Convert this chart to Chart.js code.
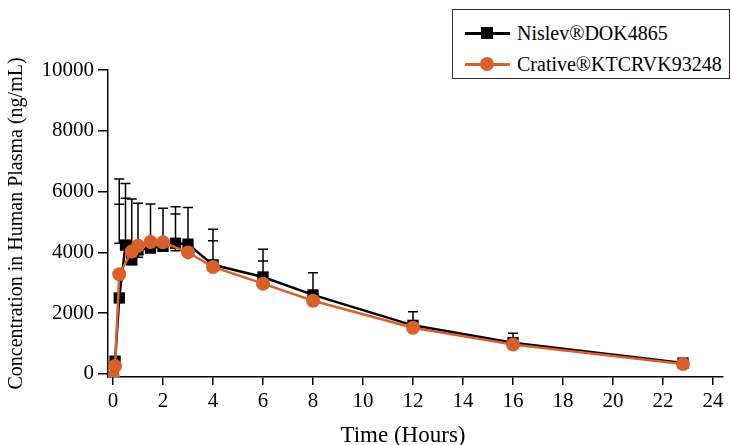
<!DOCTYPE html>
<html>
<head>
<meta charset="utf-8">
<script src="https://cdn.jsdelivr.net/npm/chart.js@4/dist/chart.umd.min.js"></script>
<style>
  body { margin: 0; background: #fff; }
  #wrap { position: relative; width: 731px; height: 445px; overflow: hidden; }
  #legend { position: absolute; left: 452px; top: 9px; width: 276px; height: 68px; border: 1.5px solid #333; background: #fff;
            font-family: "Liberation Serif", "Times New Roman", serif; font-size: 20px; color: #000; }
  .row { position: absolute; left: 0; height: 24px; width: 100%; }
  .row .ln { position: absolute; left: 12px; top: 11px; width: 45px; height: 2.5px; }
  .row .mk { position: absolute; }
  .row span { position: absolute; left: 64px; top: 0; line-height: 24px; white-space: nowrap; }
  #xtitle { position: absolute; left: 283px; top: 423px; width: 240px; text-align: center; line-height: 23px;
            font-family: "Liberation Serif", "Times New Roman", serif; font-size: 23px; color: #000; }
</style>
</head>
<body>
<div id="wrap">
  <canvas id="chart" width="731" height="445"></canvas>
  <div id="legend"></div>
  <div id="xtitle">Time (Hours)</div>
</div>
<script>
// Nislev series (black squares)
const timeN = [0, 0.083, 0.25, 0.5, 0.75, 1, 1.5, 2, 2.5, 3, 4, 6, 8, 12, 16, 22.8];
const concN = [-100, 420, 2500, 4240, 3750, 4080, 4140, 4200, 4300, 4270, 3590, 3190, 2600, 1600, 1030, 360];
// Crative series (orange circles)
const timeC = [0, 0.083, 0.25, 0.75, 1, 1.5, 2, 3, 4, 6, 8, 12, 16, 22.8];
const concC = [-100, 260, 3280, 4030, 4220, 4340, 4330, 4000, 3520, 2970, 2410, 1520, 970, 330];

// error bars (SD), as drawn
const errTime = [0.25, 0.5, 0.75, 1, 1.5, 2, 2.5, 3, 4, 6, 8, 12, 16];
const errHigh = [6410, 6270, 5760, 5620, 5590, 5450, 5500, 5480, 4760, 4100, 3330, 2050, 1340];
const errMid  = [5580, 5780, null, null, null, null, 5260, null, 4380, 3720, null, null, null];
const errLowCap = [4300, null, null, 3840, null, null, 4050, null, null, null, null, null, null];

const xTicks = [0, 2, 4, 6, 8, 10, 12, 14, 16, 18, 20, 22, 24];
const yTicks = [0, 2000, 4000, 6000, 8000, 10000];

const names = ['Nislev\u00aeDOK4865', 'Crative\u00aeKTCRVK93248'];
const ORANGE = '#d9602a';
const FONT = '"Liberation Serif", "Times New Roman", serif';

const pts = (xs, ys) => xs.map((x, i) => ({ x, y: ys[i] }));

const errorBars = {
  id: 'errorBars',
  beforeDatasetsDraw(chart) {
    const { ctx, scales: { x, y } } = chart;
    ctx.save();
    ctx.strokeStyle = '#000';
    ctx.lineWidth = 1.5;
    errTime.forEach((t, i) => {
      const px = x.getPixelForValue(t);
      const base = errLowCap[i] != null ? errLowCap[i] : concN[timeN.indexOf(t)];
      const caps = [errHigh[i], errMid[i], errLowCap[i]].filter(v => v != null);
      ctx.beginPath();
      ctx.moveTo(px, y.getPixelForValue(base));
      ctx.lineTo(px, y.getPixelForValue(errHigh[i]));
      caps.forEach(v => {
        const py = y.getPixelForValue(v);
        ctx.moveTo(px - 5, py);
        ctx.lineTo(px + 5, py);
      });
      ctx.stroke();
    });
    ctx.restore();
  }
};

new Chart(document.getElementById('chart'), {
  type: 'line',
  data: {
    datasets: [
      { label: names[0], data: pts(timeN, concN), borderColor: '#000', backgroundColor: '#000', borderWidth: 2.5,
        pointStyle: 'rect', pointRadius: 8, pointBorderWidth: 0, tension: 0, order: 2 },
      { label: names[1], data: pts(timeC, concC), borderColor: ORANGE, backgroundColor: ORANGE, borderWidth: 2.5,
        pointStyle: 'circle', pointRadius: 7, pointBorderWidth: 0, tension: 0, order: 1 }
    ]
  },
  options: {
    responsive: false,
    animation: false,
    layout: { padding: { top: 70, right: 3, left: 0, bottom: 0 } },
    plugins: { legend: { display: false }, tooltip: { enabled: false } },
    scales: {
      x: {
        type: 'linear', min: -0.2, max: 24.4,
        afterFit: (s) => { s.height = 68; },
        afterBuildTicks: (s) => { s.ticks = xTicks.map(v => ({ value: v })); },
        border: { display: true, color: '#000', width: 1.5 },
        grid: { drawOnChartArea: false, drawTicks: true, tickLength: 8, color: '#000', lineWidth: 1.5 },
        ticks: { color: '#000', padding: 4, font: { family: FONT, size: 21 }, maxRotation: 0, callback: v => String(v) }
      },
      y: {
        min: -100, max: 10000,
        afterFit: (s) => { s.width = 108; },
        afterBuildTicks: (s) => { s.ticks = yTicks.map(v => ({ value: v })); },
        border: { display: true, color: '#000', width: 1.5 },
        grid: { drawOnChartArea: false, drawTicks: true, tickLength: 10, color: '#000', lineWidth: 1.5 },
        ticks: { color: '#000', padding: 4, font: { family: FONT, size: 21 }, callback: v => String(v) },
        title: { display: true, text: 'Concentration in Human Plasma (ng/mL)', color: '#000', font: { family: FONT, size: 20 }, padding: { top: 5, bottom: 0 } }
      }
    }
  },
  plugins: [errorBars]
});

// legend
const legend = document.getElementById('legend');
[[names[0], '#000', 'rect'], [names[1], ORANGE, 'circle']].forEach(([name, color, shape], i) => {
  const row = document.createElement('div');
  row.className = 'row';
  row.style.top = (11 + i * 31) + 'px';
  const mk = shape === 'rect'
    ? `<div class="mk" style="left:28px;top:6px;width:12px;height:12px;background:${color}"></div>`
    : `<div class="mk" style="left:27px;top:5px;width:14px;height:14px;border-radius:50%;background:${color}"></div>`;
  row.innerHTML = `<div class="ln" style="background:${color}"></div>${mk}<span>${name}</span>`;
  legend.appendChild(row);
});
</script>
</body>
</html>
